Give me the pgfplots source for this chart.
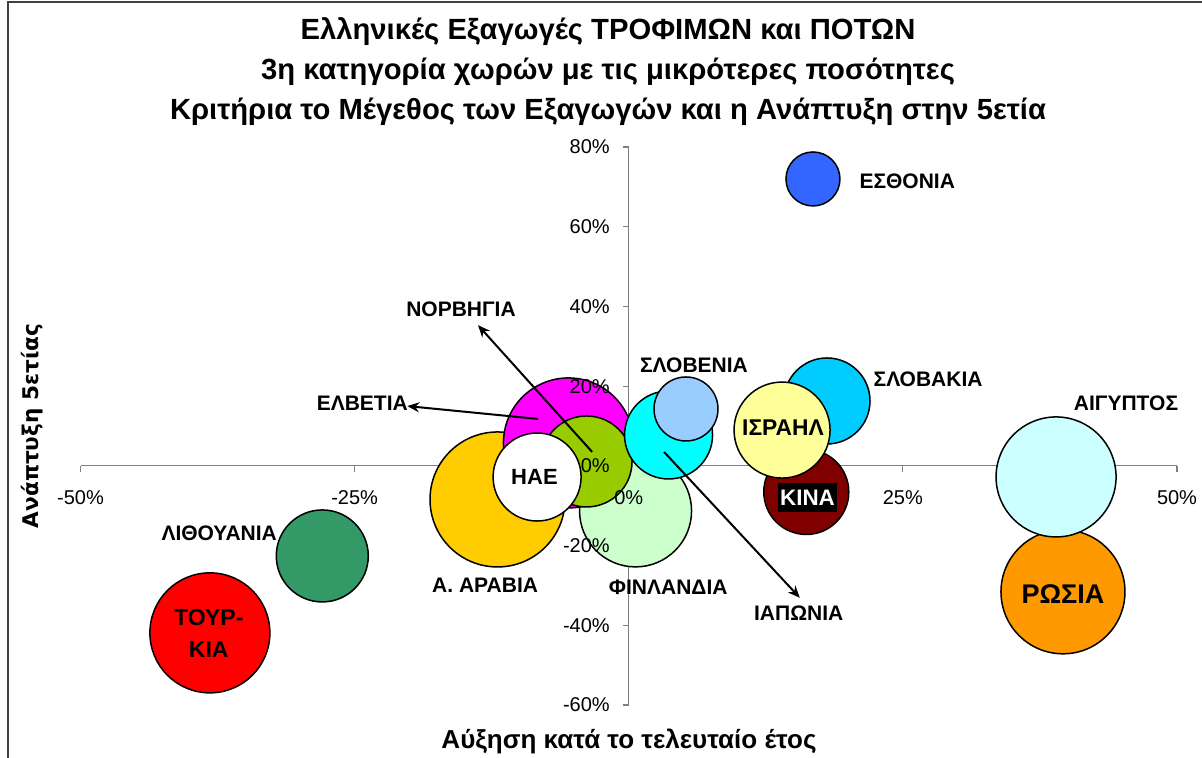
\documentclass[border=0pt]{standalone}
\usepackage{fontspec}
\setmainfont{Liberation Sans}
\newfontfamily\dejavu{DejaVu Sans}
\usepackage{pgfplots}
\pgfplotsset{compat=1.18}
\usetikzlibrary{arrows.meta}

\definecolor{axgray}{HTML}{808080}
\definecolor{cEst}{HTML}{3366FF}
\definecolor{cSlk}{HTML}{00CCFF}
\definecolor{cIsr}{HTML}{FFFF99}
\definecolor{cChn}{HTML}{800000}
\definecolor{cEgy}{HTML}{CCFFFF}
\definecolor{cRus}{HTML}{FF9900}
\definecolor{cSlv}{HTML}{99CCFF}
\definecolor{cJap}{HTML}{00FFFF}
\definecolor{cFin}{HTML}{CCFFCC}
\definecolor{cNor}{HTML}{99CC00}
\definecolor{cSwi}{HTML}{FF00FF}
\definecolor{cSau}{HTML}{FFCC00}
\definecolor{cLit}{HTML}{339966}
\definecolor{cTur}{HTML}{FF0000}

% tick labels go above the bubbles, axis lines below
\pgfplotsset{
  layers/bubbles/.define layer set={axis background,axis grid,axis ticks,axis lines,pre main,main,axis tick labels,axis descriptions,axis foreground}{
    grid style={/pgfplots/on layer=axis grid},
    tick style={/pgfplots/on layer=axis ticks},
    axis line style={/pgfplots/on layer=axis lines},
    label style={/pgfplots/on layer=axis descriptions},
    ticklabel style={/pgfplots/on layer=axis tick labels},
  },
  bub/.style 2 args={only marks, mark=*, mark size=#2,
    mark options={draw=black, line width=0.75pt, fill=#1}},
}
\tikzset{
  lbl/.style={font=\bfseries\fontsize{10.5}{12}\selectfont, inner sep=0pt},
  big/.style={font=\bfseries\fontsize{#1}{14}\selectfont},
  arr/.style={line width=1pt, -{Stealth[length=6pt,width=5pt]}},
}

\begin{document}
\begin{tikzpicture}
\begin{axis}[
  at={(40.25pt,26.5pt)}, anchor=south west,
  scale only axis, width=548.25pt, height=279pt,
  xmin=-50, xmax=50, ymin=-60, ymax=80,
  axis lines=middle,
  axis line style={draw=axgray, line width=0.6pt, -},
  every inner x axis line/.append style={-},
  every inner y axis line/.append style={-},
  xtick={-50,-25,0,25,50},
  xticklabels={-50\%,-25\%,0\%,25\%,50\%},
  ytick={-60,-40,-20,0,20,40,60,80},
  yticklabels={-60\%,-40\%,-20\%,0\%,20\%,40\%,60\%,80\%},
  hide obscured x ticks=false, hide obscured y ticks=false,
  tick align=outside, major tick length=3pt,
  tick style={draw=axgray, line width=0.6pt},
  ticklabel style={font=\fontsize{10}{12}\selectfont},
  xticklabel style={yshift=-6pt},
  yticklabel style={xshift=-3pt},
  clip=false, set layers=bubbles,
]
% bubbles, back to front
\addplot[bub={cTur}{30pt}]    coordinates {(-38.2,-41.9)};
\addplot[bub={cLit}{23pt}]    coordinates {(-27.95,-22.6)};
\addplot[bub={cRus}{31pt}]    coordinates {(39.6,-31.6)};
\addplot[bub={cEgy}{30pt}]    coordinates {(38.97,-2.78)};
\addplot[bub={cEst}{13.5pt}]  coordinates {(16.8,71.98)};
\addplot[bub={cSlk}{21.5pt}]  coordinates {(18.08,16.28)};
\addplot[bub={cChn}{21.25pt}] coordinates {(16.19,-6.55)};
\addplot[bub={cIsr}{24pt}]    coordinates {(13.98,8.98)};
\addplot[bub={cFin}{28pt}]    coordinates {(0.62,-11.3)};
\addplot[bub={cSau}{33.75pt}] coordinates {(-11.97,-8.43)};
\addplot[bub={cSwi}{32.5pt}]  coordinates {(-5.5,5.75)};
\addplot[bub={cNor}{22.75pt}] coordinates {(-3.85,1.1)};
\addplot[bub={cJap}{22pt}]    coordinates {(3.63,7.75)};
\addplot[bub={cSlv}{16pt}]    coordinates {(5.22,14.27)};
\addplot[bub={white}{22pt}]   coordinates {(-8.36,-2.8)};

\begin{pgfonlayer}{axis foreground}
% callouts
\draw[arr] (-3.34,3.49) -- (-13.75,35.3);
\draw[arr] (-8.27,11.77) -- (-20.2,15.0);
\draw[arr] (3.22,3.49) -- (15.6,-33.1);

% country names
\node[lbl] at (25.4,71.4) {ΕΣΘΟΝΙΑ};
\node[lbl] at (27.3,21.8) {ΣΛΟΒΑΚΙΑ};
\node[lbl] at (45.35,15.8) {ΑΙΓΥΠΤΟΣ};
\node[lbl] at (5.95,25.3) {ΣΛΟΒΕΝΙΑ};
\node[lbl, big=11.4] at (14.07,9.5) {ΙΣΡΑΗΛ};
\node[lbl, big=11.2, fill=black, text=white, inner xsep=1pt, inner ysep=3.5pt] at (16.3,-8.0) {ΚΙΝΑ};
\node[lbl, big=13.5] at (39.6,-32.1) {ΡΩΣΙΑ};
\node[lbl, big=11] at (-8.6,-2.8) {ΗΑΕ};
\node[lbl] at (-13.1,-29.9) {Α. ΑΡΑΒΙΑ};
\node[lbl] at (3.6,-30.4) {ΦΙΝΛΑΝΔΙΑ};
\node[lbl] at (15.5,-36.9) {ΙΑΠΩΝΙΑ};
\node[lbl] at (-37.35,-16.8) {ΛΙΘΟΥΑΝΙΑ};
\node[lbl, big=11.5] at (-38.3,-38.1) {ΤΟΥΡ-};
\node[lbl, big=11.5] at (-38.3,-46.1) {ΚΙΑ};
\node[lbl] at (-15.3,39.4) {ΝΟΡΒΗΓΙΑ};
\node[lbl] at (-24.3,15.8) {ΕΛΒΕΤΙΑ};
\end{pgfonlayer}
\end{axis}

% titles
\begin{scope}[every node/.style={font=\bfseries\fontsize{14.6}{17}\selectfont}]
\node at (304pt,363pt) {Ελληνικές Εξαγωγές ΤΡΟΦΙΜΩΝ και ΠΟΤΩΝ};
\node at (304pt,343pt) {3η κατηγορία χωρών με τις μικρότερες ποσότητες};
\node at (304pt,323pt) {Κριτήρια το Μέγεθος των Εξαγωγών και η Ανάπτυξη στην 5ετία};
\end{scope}
\node[font=\bfseries\fontsize{13}{15}\selectfont] at (314.5pt,8.5pt) {Αύξηση κατά το τελευταίο έτος};
\node[font=\dejavu\bfseries\fontsize{10.8}{13}\selectfont, rotate=90] at (16pt,166pt) {Ανάπτυξη 5ετίας};
\draw[line width=1pt, black!75] (4pt,-5pt) -- (4pt,378pt) -- (610pt,378pt);
\pgfresetboundingbox
\useasboundingbox (0,0) rectangle (601pt,379pt);
\end{tikzpicture}
\end{document}
